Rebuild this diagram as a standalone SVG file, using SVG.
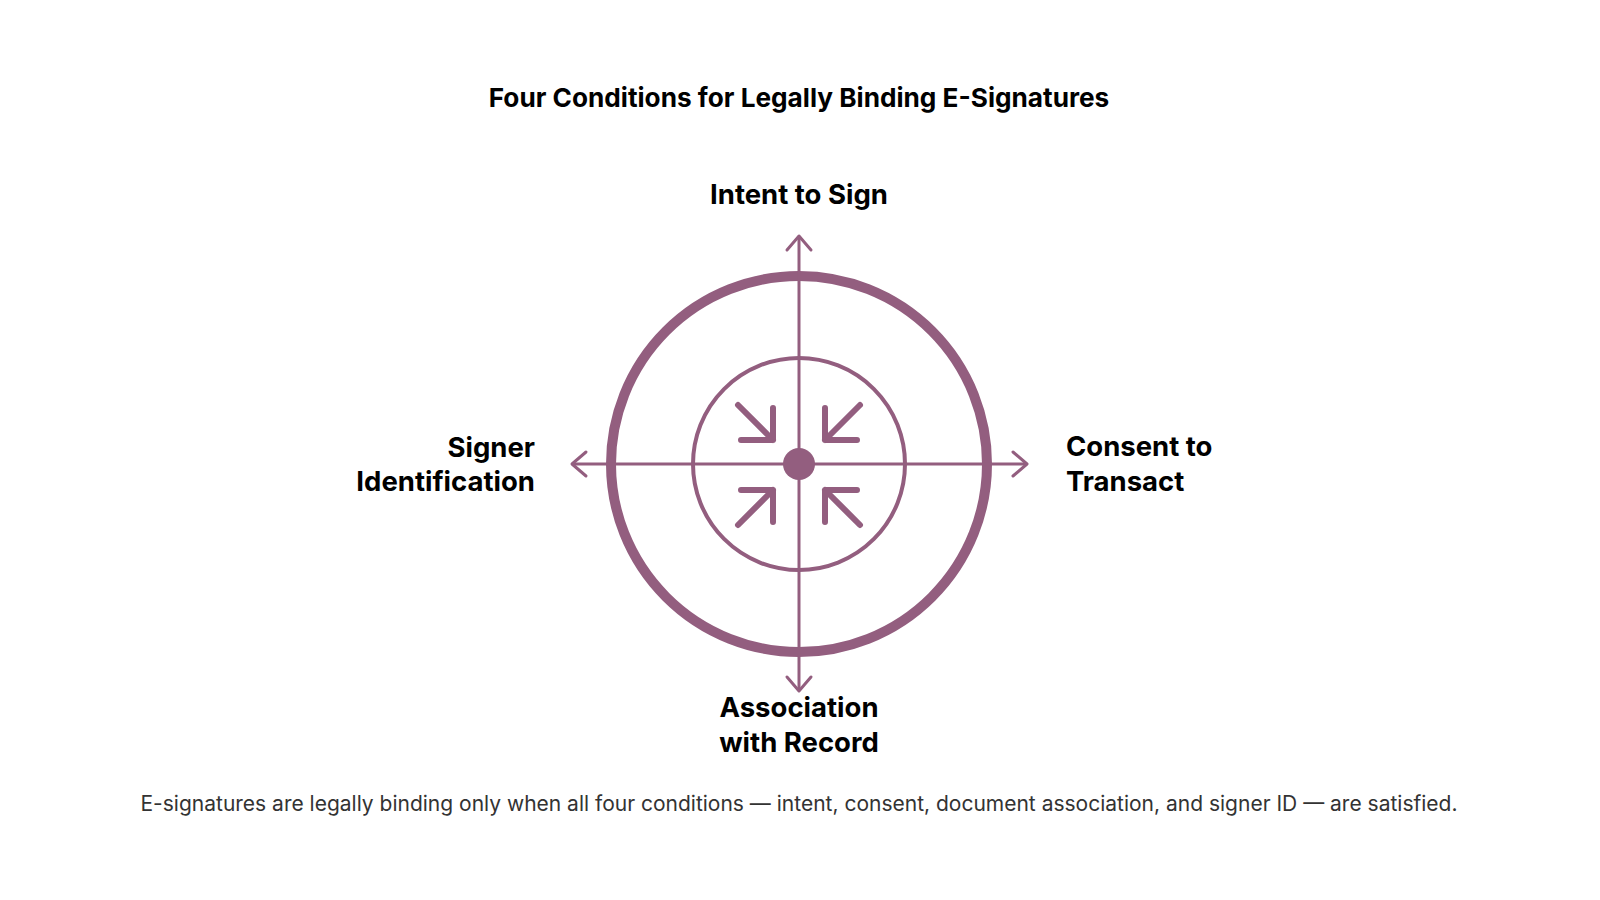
<svg xmlns="http://www.w3.org/2000/svg" width="1600" height="900" viewBox="0 0 1600 900">
<defs>
<style>
.lbl{font-family:Inter,"Liberation Sans",sans-serif;font-weight:700;font-size:27.5px;fill:#000}
.title{font-family:Inter,"Liberation Sans",sans-serif;font-weight:700;font-size:26.2px;fill:#000}
.foot{font-family:Inter,"Liberation Sans",sans-serif;font-weight:400;font-size:21px;fill:#333}
.axis{stroke:#935E7F;stroke-width:3;fill:none}
.conv{stroke:#935E7F;stroke-width:6;fill:none;stroke-linecap:round;stroke-linejoin:round}
</style>
<marker id="chev" markerUnits="userSpaceOnUse" markerWidth="30" markerHeight="30" viewBox="-16 -15 20 30" refX="0" refY="0" orient="auto" overflow="visible">
<path d="M-14,-12 L0,0 L-14,12" fill="none" stroke="#935E7F" stroke-width="3" stroke-linecap="round" stroke-linejoin="round"/>
</marker>
</defs>
<rect width="1600" height="900" fill="#fff"/>
<text class="title" x="799" y="107" text-anchor="middle">Four Conditions for Legally Binding E-Signatures</text>
<g id="rings">
<circle cx="799" cy="464" r="188" fill="none" stroke="#935E7F" stroke-width="10"/>
<circle cx="799" cy="464" r="106" fill="none" stroke="#935E7F" stroke-width="4"/>
</g>
<g id="connectors">
<path class="axis" d="M799,464 L799,236" marker-end="url(#chev)"/>
<path class="axis" d="M799,464 L799,691" marker-end="url(#chev)"/>
<path class="axis" d="M799,464 L572,464" marker-end="url(#chev)"/>
<path class="axis" d="M799,464 L1027,464" marker-end="url(#chev)"/>
</g>
<g id="converge">
<path class="conv" d="M738,405 L773,440 M741,440 L773,440 L773,408"/>
<path class="conv" d="M860,405 L825,440 M857,440 L825,440 L825,408"/>
<path class="conv" d="M738,525 L773,490 M741,490 L773,490 L773,522"/>
<path class="conv" d="M860,525 L825,490 M857,490 L825,490 L825,522"/>
<circle cx="799" cy="464" r="16" fill="#935E7F"/>
</g>
<g id="node-intent"><text class="lbl" x="799" y="204" text-anchor="middle">Intent to Sign</text></g>
<g id="node-consent"><text class="lbl" x="1066" y="456">Consent to</text><text class="lbl" x="1066" y="490.5">Transact</text></g>
<g id="node-association"><text class="lbl" x="799" y="717" text-anchor="middle">Association</text><text class="lbl" x="799" y="752" text-anchor="middle">with Record</text></g>
<g id="node-signer"><text class="lbl" x="535" y="457" text-anchor="end">Signer</text><text class="lbl" x="535" y="490.5" text-anchor="end">Identification</text></g>
<text class="foot" x="799" y="810.5" text-anchor="middle">E-signatures are legally binding only when all four conditions — intent, consent, document association, and signer ID — are satisfied.</text>
</svg>
